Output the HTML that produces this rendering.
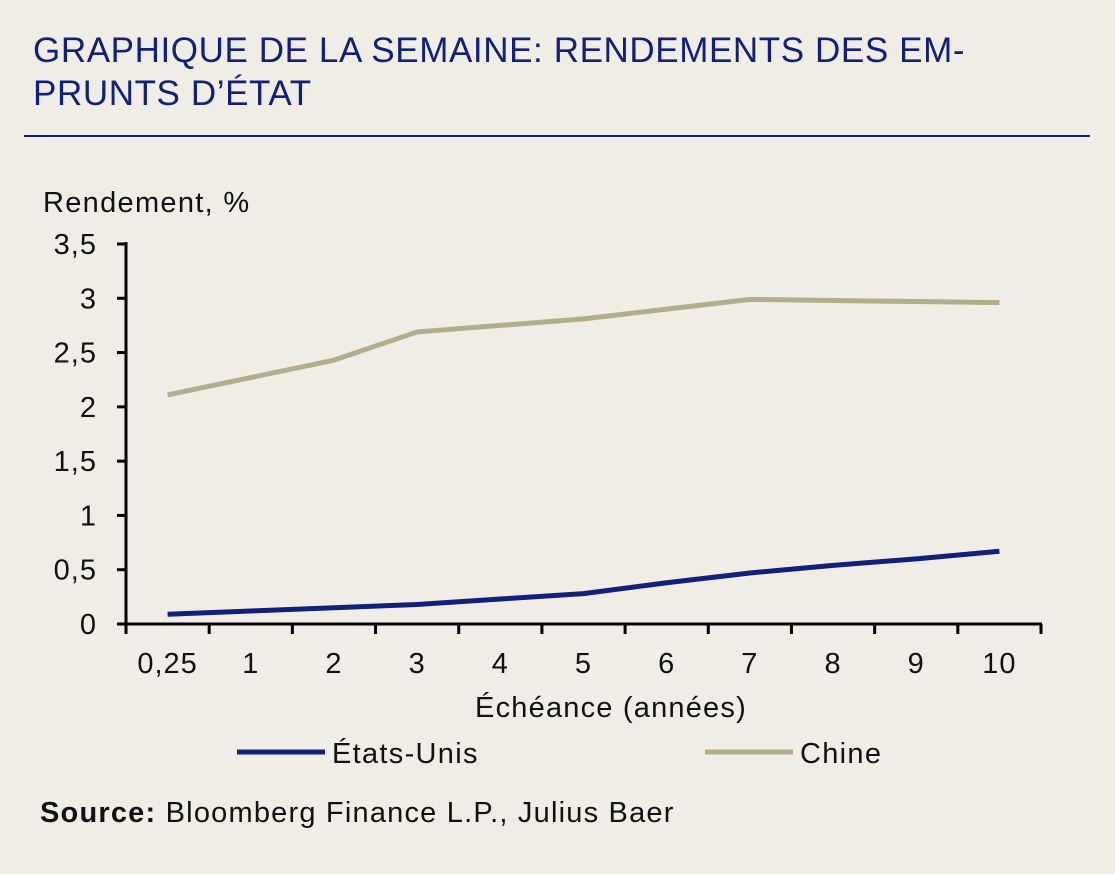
<!DOCTYPE html>
<html><head><meta charset="utf-8"><style>
html,body{margin:0;padding:0;background:#efede6;}
body{width:1115px;height:874px;position:relative;overflow:hidden;font-family:"Liberation Sans",sans-serif;}
#title{position:absolute;left:33px;top:29px;font-size:35px;line-height:43px;color:#13207a;letter-spacing:0.6px;}
#rule{position:absolute;left:24px;top:135px;width:1066px;height:2px;background:#13207a;}
#src{position:absolute;left:40px;top:797px;font-size:29px;color:#111;letter-spacing:1.2px;}
</style></head><body>
<div id="title">GRAPHIQUE DE LA SEMAINE: RENDEMENTS DES EM-<br>PRUNTS D’ÉTAT</div>
<div id="rule"></div>
<svg id="chart" width="1115" height="874" style="position:absolute;left:0;top:0" xmlns="http://www.w3.org/2000/svg"></svg>
<div id="src"><b>Source:</b> Bloomberg Finance L.P., Julius Baer</div>
<script>
const categories=["0,25","1","2","3","4","5","6","7","8","9","10"];
const usValues=[0.09,0.12,0.15,0.18,0.23,0.28,0.38,0.47,0.54,0.60,0.67];
const chinaValues=[2.11,2.27,2.43,2.69,2.75,2.81,2.90,2.99,2.98,2.97,2.96];
const yTicks=[0,0.5,1,1.5,2,2.5,3,3.5];
const yTickLabels=["0","0,5","1","1,5","2","2,5","3","3,5"];
const NS="http://www.w3.org/2000/svg";
const svg=document.getElementById('chart');
const X0=126,X1=1041,Y0=624,Y1=244,YMAX=3.5;
const bw=(X1-X0)/categories.length;
const FONT='Liberation Sans, sans-serif';
function x(i){return X0+bw*(i+0.5);}
function y(v){return Y0-(v/YMAX)*(Y0-Y1);}
function mk(t,a){const e=document.createElementNS(NS,t);for(const k in a)e.setAttribute(k,a[k]);svg.appendChild(e);return e;}
const ya=mk('line',{x1:X0,y1:Y1-2,x2:X0,y2:Y0+1,stroke:'#000','stroke-width':3});


const xa=mk('line',{x1:X0-1,y1:Y0,x2:X1+1,y2:Y0,stroke:'#000','stroke-width':3});


yTicks.forEach((v,i)=>{
  const t=mk('line',{x1:X0-9,y1:y(v),x2:X0,y2:y(v),stroke:'#000','stroke-width':3});
  
  
  const l=mk('text',{x:97,y:y(v)+10,'text-anchor':'end','font-size':29,'letter-spacing':1,fill:'#111','font-family':FONT});
  l.textContent=yTickLabels[i];
  
  
});
for(let i=0;i<=categories.length;i++){
  const tx=X0+bw*i;
  const t=mk('line',{x1:tx,y1:Y0,x2:tx,y2:Y0+10,stroke:'#000','stroke-width':3});
  
  
}
categories.forEach((c,i)=>{
  const l=mk('text',{x:x(i),y:673,'text-anchor':'middle','font-size':29,'letter-spacing':1,fill:'#111','font-family':FONT});
  l.textContent=c;
  
  
});
const yt=mk('text',{x:43,y:212,'font-size':29,'letter-spacing':1.3,fill:'#111','font-family':FONT});
yt.textContent='Rendement, %';


const xt=mk('text',{x:611,y:717,'text-anchor':'middle','font-size':29,'letter-spacing':1.2,fill:'#111','font-family':FONT});
xt.textContent='Échéance (années)';


function series(vals,color,name){
  const p=mk('polyline',{points:vals.map((v,i)=>x(i)+','+y(v)).join(' '),fill:'none',stroke:color,'stroke-width':5,'stroke-linejoin':'round'});
  
  
}
series(chinaValues,'#b3ad8c','china-line');
series(usValues,'#13207a','us-line');
function legend(x1,label,color,name){
  const l=mk('line',{x1:x1,y1:752,x2:x1+88,y2:752,stroke:color,'stroke-width':5});
  
  
  const t=mk('text',{x:x1+95,y:763,'font-size':29,'letter-spacing':1.3,fill:'#111','font-family':FONT});
  t.textContent=label;
  
  
}
legend(237,'États-Unis','#13207a','legend-us');
legend(705,'Chine','#b3ad8c','legend-china');
</script>
</body></html>
